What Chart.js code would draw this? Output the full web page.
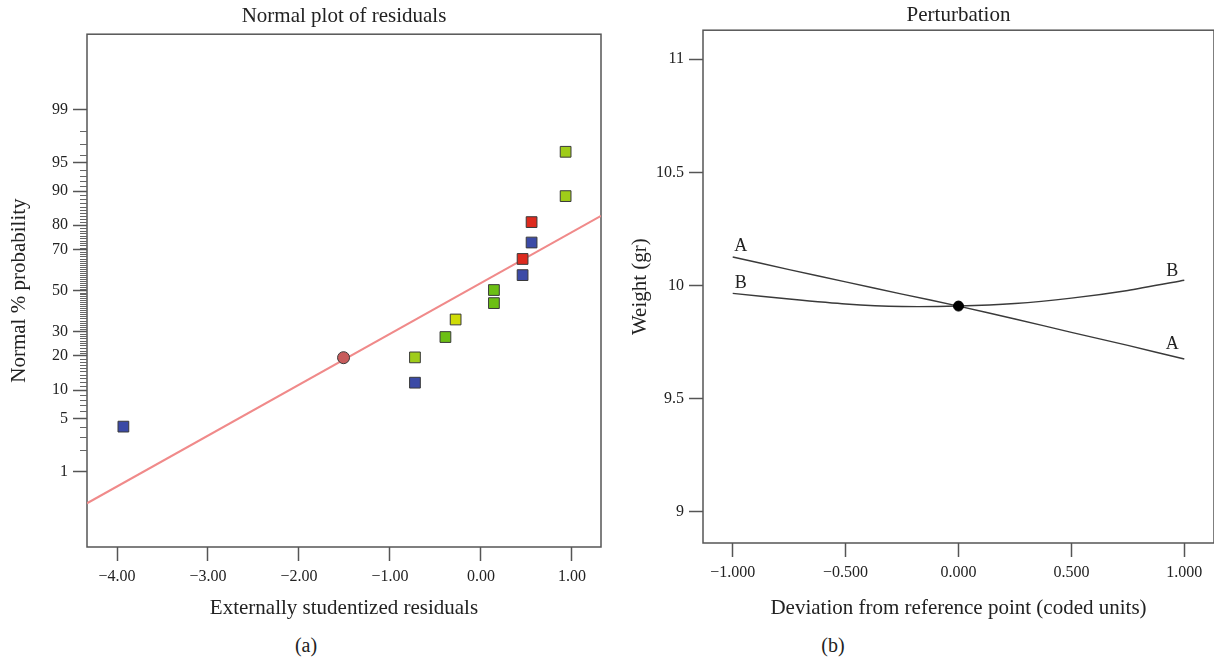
<!DOCTYPE html>
<html lang="en">
<head>
<meta charset="UTF-8">
<title>Normal plot of residuals / Perturbation</title>
<script src="https://cdn.jsdelivr.net/npm/chart.js"></script>
<style>
    html, body {
        margin: 0;
        padding: 0;
        background: #fff;
        overflow: hidden;
    }
    body {
        width: 1214px;
        height: 663px;
        position: relative;
        font-family: "Liberation Serif", serif;
        color: #222;
    }
    .box {
        position: absolute;
        top: 0;
        height: 625px;
    }
    #left { left: 0; width: 610px; }
    #right { left: 600px; width: 620px; }
    .cap {
        position: absolute;
        top: 634px;
        font-size: 20px;
        transform: translateX(-50%);
    }
</style>
</head>
<body>
    <div class="box" id="left"><canvas id="resid"></canvas></div>
    <div class="box" id="right"><canvas id="pert"></canvas></div>
    <div class="cap" style="left:306px">(a)</div>
    <div class="cap" style="left:833px">(b)</div>
    <script>
        // (a) normal plot of residuals
        const resX = [-3.93, -1.51, -0.725, -0.725, -0.39, -0.278, 0.143, 0.143, 0.458, 0.458, 0.557, 0.557, 0.931, 0.931];
        const resP = [4.0, 19.4, 11.8, 19.5, 27.5, 35.5, 43.6, 50.3, 57.9, 65.8, 73.2, 81.1, 88.8, 96.3];
        const resGroup = ["blue", "circle", "blue", "lime", "green", "yellow", "green", "green", "blue", "red", "blue", "red", "lime", "lime"];
        const fitX = [-4.33, 1.32];
        const fitP = [0.31, 83.2];
        const probTicks = [1, 5, 10, 20, 30, 50, 70, 80, 90, 95, 99];
        const residTicks = [-4, -3, -2, -1, 0, 1];

        // (b) perturbation
        const devX = [-1, -0.75, -0.5, -0.25, 0, 0.25, 0.5, 0.75, 1];
        const weightA = [10.126, 10.07, 10.016, 9.962, 9.909, 9.852, 9.793, 9.735, 9.675];
        const weightB = [9.965, 9.94, 9.918, 9.907, 9.909, 9.92, 9.944, 9.978, 10.023];
        const refX = [0];
        const refY = [9.909];
        const weightTicks = [9, 9.5, 10, 10.5, 11];
        const devTicks = [-1, -0.5, 0, 0.5, 1];

        const groupColors = {
            blue: "#3b4aa6", red: "#dd2a1e", green: "#6cbf14",
            lime: "#9fcc19", yellow: "#cfdc06", circle: "#c75c5c"
        };
        const serif = '"Liberation Serif", "DejaVu Serif", serif';
        const ink = "#222";
        const axisGray = "#555";

        // inverse normal CDF (Acklam), used for the probability axis
        function probit(p) {
            const a = [-39.69683028665376, 220.9460984245205, -275.9285104469687, 138.3577518672690, -30.66479806614716, 2.506628277459239];
            const b = [-54.47609879822406, 161.5858368580409, -155.6989798598866, 66.80131188771972, -13.28068155288572];
            const c = [-0.007784894002430293, -0.3223964580411365, -2.400758277161838, -2.549732539343734, 4.374664141464968, 2.938163982698783];
            const d = [0.007784695709041462, 0.3224671290700398, 2.445134137142996, 3.754408661907416];
            const pl = 0.02425;
            let q, r;
            if (p < pl) {
                q = Math.sqrt(-2 * Math.log(p));
                return (((((c[0]*q+c[1])*q+c[2])*q+c[3])*q+c[4])*q+c[5]) / ((((d[0]*q+d[1])*q+d[2])*q+d[3])*q+1);
            }
            if (p > 1 - pl) {
                q = Math.sqrt(-2 * Math.log(1 - p));
                return -(((((c[0]*q+c[1])*q+c[2])*q+c[3])*q+c[4])*q+c[5]) / ((((d[0]*q+d[1])*q+d[2])*q+d[3])*q+1);
            }
            q = p - 0.5;
            r = q * q;
            return (((((a[0]*r+a[1])*r+a[2])*r+a[3])*r+a[4])*r+a[5])*q / (((((b[0]*r+b[1])*r+b[2])*r+b[3])*r+b[4])*r+1);
        }

        function fmt(v, digits) {
            return (v < 0 ? "\u2212" : "") + Math.abs(v).toFixed(digits);
        }

        const frame = {
            id: "frame",
            beforeDatasetsDraw(chart) {
                const {ctx, chartArea: a} = chart;
                ctx.save();
                ctx.strokeStyle = axisGray;
                ctx.lineWidth = 1.5;
                ctx.strokeRect(a.left, a.top, a.right - a.left, a.bottom - a.top);
                ctx.restore();
            }
        };

        const minorTicks = {
            id: "minorTicks",
            afterDraw(chart) {
                const {ctx, chartArea} = chart;
                const y = chart.scales.y;
                ctx.save();
                ctx.strokeStyle = "#666";
                ctx.lineWidth = 1;
                ctx.beginPath();
                for (let p = 2; p <= 98; p++) {
                    if (probTicks.includes(p)) continue;
                    const py = Math.round(y.getPixelForValue(probit(p / 100))) + 0.5;
                    ctx.moveTo(chartArea.left - 7, py);
                    ctx.lineTo(chartArea.left, py);
                }
                ctx.stroke();
                ctx.restore();
            }
        };

        const endLabels = {
            id: "endLabels",
            afterDatasetsDraw(chart) {
                const ctx = chart.ctx;
                ctx.save();
                ctx.font = "18px " + serif;
                ctx.fillStyle = ink;
                ctx.textAlign = "center";
                ctx.textBaseline = "middle";
                chart.data.datasets.forEach((ds, i) => {
                    if (!ds.endLabel) return;
                    const pts = chart.getDatasetMeta(i).data;
                    const first = pts[0], last = pts[pts.length - 1];
                    ctx.fillText(ds.endLabel, first.x + 8, first.y - ds.startLift);
                    ctx.fillText(ds.endLabel, last.x - 12, last.y - ds.endLift);
                });
                ctx.restore();
            }
        };

        function tickFont() { return {family: serif, size: 16}; }
        function titleFont() { return {family: serif, size: 21, weight: "normal"}; }

        // ---------- chart (a)
        new Chart(document.getElementById("resid"), {
            type: "scatter",
            data: {
                datasets: [
                    {
                        data: resX.map((x, i) => ({x: x, y: probit(resP[i] / 100)})),
                        backgroundColor: resGroup.map(g => groupColors[g]),
                        borderColor: "#3a3a3a",
                        borderWidth: 1,
                        pointStyle: resGroup.map(g => g === "circle" ? "circle" : "rect"),
                        pointRadius: resGroup.map(g => g === "circle" ? 6 : 7.6),
                        order: 0
                    },
                    {
                        type: "line",
                        data: fitX.map((x, i) => ({x: x, y: probit(fitP[i] / 100)})),
                        borderColor: "#f08a8a",
                        borderWidth: 2,
                        pointRadius: 0,
                        order: 1
                    }
                ]
            },
            options: {
                responsive: true,
                maintainAspectRatio: false,
                animation: false,
                layout: {padding: {left: 0, right: 9, top: 0, bottom: 0}},
                plugins: {
                    legend: {display: false},
                    tooltip: {enabled: false},
                    title: {
                        display: true, text: "Normal plot of residuals", color: ink,
                        font: titleFont(), fullSize: false, padding: {top: 4, bottom: 5}
                    }
                },
                scales: {
                    x: {
                        type: "linear", min: -4.33, max: 1.32,
                        afterBuildTicks: s => { s.ticks = residTicks.map(v => ({value: v})); },
                        afterFit: s => { s.height = 78; },
                        ticks: {callback: v => fmt(v, 2), color: ink, font: tickFont(), padding: 6, maxRotation: 0},
                        grid: {drawOnChartArea: false, tickLength: 14, tickColor: axisGray, tickWidth: 1.5},
                        border: {display: false},
                        title: {display: true, text: "Externally studentized residuals", color: ink, font: titleFont(), padding: {top: 0, bottom: 4}}
                    },
                    y: {
                        type: "linear", min: -3.30, max: 3.30,
                        afterBuildTicks: s => { s.ticks = probTicks.map(p => ({value: probit(p / 100)})); },
                        afterFit: s => { s.width = 87; },
                        ticks: {callback: (v, i) => String(probTicks[i]), color: ink, font: tickFont(), padding: 5},
                        grid: {drawOnChartArea: false, tickLength: 14, tickColor: axisGray, tickWidth: 1.5},
                        border: {display: false},
                        title: {display: true, text: "Normal % probability", color: ink, font: titleFont(), padding: {top: 7, bottom: 0}}
                    }
                }
            },
            plugins: [frame, minorTicks]
        });

        // ---------- chart (b)
        new Chart(document.getElementById("pert"), {
            type: "line",
            data: {
                datasets: [
                    {
                        type: "scatter",
                        data: refX.map((x, i) => ({x: x, y: refY[i]})),
                        backgroundColor: "#000",
                        borderColor: "#000",
                        pointRadius: 5,
                        order: 0
                    },
                    {
                        data: devX.map((x, i) => ({x: x, y: weightA[i]})),
                        borderColor: "#3a3a3a", borderWidth: 1.4, pointRadius: 0, tension: 0.2,
                        endLabel: "A", startLift: 11, endLift: 15, order: 1
                    },
                    {
                        data: devX.map((x, i) => ({x: x, y: weightB[i]})),
                        borderColor: "#3a3a3a", borderWidth: 1.4, pointRadius: 0, tension: 0.2,
                        endLabel: "B", startLift: 10, endLift: 9, order: 2
                    }
                ]
            },
            options: {
                responsive: true,
                maintainAspectRatio: false,
                animation: false,
                layout: {padding: {left: 0, right: 1, top: 0, bottom: 0}},
                plugins: {
                    legend: {display: false},
                    tooltip: {enabled: false},
                    title: {
                        display: true, text: "Perturbation", color: ink,
                        font: titleFont(), fullSize: false, padding: {top: 3, bottom: 2}
                    }
                },
                scales: {
                    x: {
                        type: "linear", min: -1.1316, max: 1.1316,
                        afterBuildTicks: s => { s.ticks = devTicks.map(v => ({value: v})); },
                        afterFit: s => { s.height = 82; },
                        ticks: {callback: v => fmt(v, 3), color: ink, font: tickFont(), padding: 6, maxRotation: 0},
                        grid: {drawOnChartArea: false, tickLength: 14, tickColor: axisGray, tickWidth: 1.5},
                        border: {display: false},
                        title: {display: true, text: "Deviation from reference point (coded units)", color: ink, font: titleFont(), padding: {top: 0, bottom: 4}}
                    },
                    y: {
                        type: "linear", min: 8.862, max: 11.128,
                        afterBuildTicks: s => { s.ticks = weightTicks.map(v => ({value: v})); },
                        afterFit: s => { s.width = 103; },
                        ticks: {callback: v => String(v), color: ink, font: tickFont(), padding: 5},
                        grid: {drawOnChartArea: false, tickLength: 14, tickColor: axisGray, tickWidth: 1.5},
                        border: {display: false},
                        title: {display: true, text: "Weight (gr)", color: ink, font: titleFont(), padding: {top: 28, bottom: 0}}
                    }
                }
            },
            plugins: [frame, endLabels]
        });
    </script>
</body>
</html>
